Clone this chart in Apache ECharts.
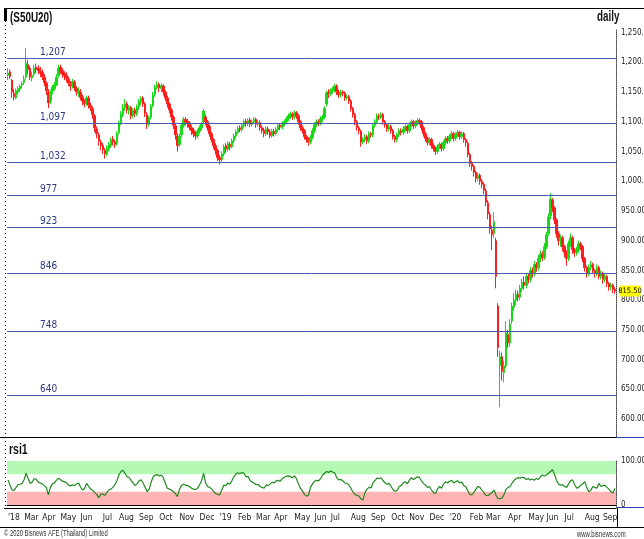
<!DOCTYPE html>
<html>
<head>
<meta charset="utf-8">
<script src="https://cdn.jsdelivr.net/npm/echarts@6/dist/echarts.min.js"></script>
<style>
html,body{margin:0;padding:0;background:#fff;}
#chart{width:644px;height:539px;}
</style>
</head>
<body>
<div id="chart"></div>
<script>
// month tick labels and number of (2-day) candles in each month
const monthNames = ["'18","Mar","Apr","May","Jun","Jul","Aug","Sep","Oct","Nov","Dec",
    "'19","Feb","Mar","Apr","May","Jun","Jul","Aug","Sep","Oct","Nov","Dec",
    "'20","Feb","Mar","Apr","May","Jun","Jul","Aug","Sep"];
const monthCounts = [8,9,9,10,11,8,10,10,10,10,10, 9,9,9,10,10,8,10,10,10,9,10,10, 10,8,11,10,9,9,10,9,7];

// support / resistance levels
const levels = [1207,1097,1032,977,923,846,748,640];

// candles: [open, close, low, high]
const ohlc = [
[1178,1182,1170,1190],[1184,1176,1172,1188],[1170,1150,1140,1172],[1148,1142,1136,1155],[1140,1152,1138,1156],
[1150,1156,1146,1160],[1155,1160,1150,1163],[1162,1164,1156,1168],[1166,1172,1162,1178],[1175,1198,1172,1224],
[1196,1188,1180,1204],[1190,1175,1170,1194],[1174,1178,1168,1184],[1180,1190,1176,1196],[1192,1188,1182,1198],
[1190,1186,1180,1195],[1185,1182,1175,1192],[1183,1176,1170,1188],[1175,1166,1160,1180],[1165,1152,1145,1168],
[1150,1132,1123,1155],[1135,1150,1130,1154],[1152,1158,1146,1162],[1156,1162,1152,1167],[1162,1175,1160,1180],
[1178,1190,1174,1196],[1192,1185,1180,1196],[1186,1180,1174,1190],[1181,1177,1170,1185],[1178,1173,1166,1183],
[1172,1165,1160,1176],[1163,1160,1152,1168],[1160,1168,1156,1172],[1167,1157,1152,1170],[1156,1150,1144,1160],
[1148,1153,1142,1158],[1150,1141,1136,1155],[1142,1135,1128,1146],[1134,1131,1124,1138],[1130,1140,1127,1144],
[1140,1128,1122,1144],[1128,1124,1118,1132],[1122,1112,1105,1126],[1110,1090,1083,1113],[1088,1080,1072,1092],
[1078,1068,1060,1082],[1066,1060,1052,1070],[1060,1053,1046,1064],[1052,1046,1038,1056],[1046,1055,1042,1060],
[1054,1062,1050,1066],[1060,1070,1056,1074],[1071,1067,1060,1076],[1066,1062,1056,1070],[1064,1080,1060,1084],
[1082,1098,1078,1102],[1098,1113,1094,1118],[1112,1124,1108,1130],[1124,1130,1118,1138],[1130,1120,1114,1134],
[1119,1124,1112,1128],[1124,1110,1104,1127],[1111,1119,1106,1123],[1120,1114,1108,1124],[1114,1125,1110,1129],
[1125,1134,1120,1138],[1133,1139,1128,1143],[1140,1130,1125,1143],[1130,1114,1108,1133],[1112,1096,1088,1116],
[1096,1106,1092,1110],[1107,1126,1104,1130],[1127,1145,1124,1150],[1146,1158,1142,1162],[1158,1163,1154,1168],
[1163,1157,1150,1166],[1156,1161,1150,1165],[1160,1150,1144,1163],[1150,1140,1135,1153],[1140,1130,1124,1144],
[1130,1120,1114,1133],[1120,1108,1102,1123],[1108,1094,1088,1111],[1093,1078,1070,1096],[1076,1060,1050,1080],
[1062,1076,1058,1080],[1078,1094,1074,1098],[1094,1104,1090,1108],[1104,1100,1094,1108],[1101,1097,1090,1105],
[1098,1091,1086,1101],[1090,1085,1078,1094],[1086,1080,1074,1090],[1080,1076,1070,1084],[1076,1084,1072,1088],
[1084,1090,1080,1094],[1090,1096,1086,1100],[1100,1118,1096,1122],[1108,1100,1094,1112],[1100,1090,1085,1103],
[1092,1080,1075,1095],[1080,1070,1065,1083],[1070,1060,1054,1073],[1060,1052,1045,1064],[1052,1040,1034,1055],
[1040,1036,1028,1044],[1036,1046,1032,1050],[1046,1058,1042,1062],[1060,1054,1048,1064],[1054,1063,1050,1067],
[1062,1058,1052,1066],[1058,1068,1055,1072],[1068,1076,1064,1080],[1076,1083,1072,1087],[1083,1089,1079,1093],
[1090,1087,1082,1094],[1087,1094,1083,1098],[1094,1100,1090,1104],[1101,1097,1092,1105],[1097,1102,1093,1106],
[1103,1096,1091,1107],[1096,1100,1092,1104],[1100,1104,1096,1108],[1104,1096,1090,1107],[1096,1099,1092,1103],
[1099,1090,1085,1102],[1090,1085,1080,1094],[1086,1080,1074,1090],[1080,1088,1076,1092],[1088,1083,1078,1092],
[1083,1077,1072,1087],[1077,1084,1073,1088],[1084,1080,1075,1088],[1080,1087,1077,1091],[1087,1094,1083,1098],
[1094,1091,1086,1098],[1091,1097,1087,1101],[1097,1100,1093,1104],[1100,1105,1096,1109],[1105,1110,1101,1114],
[1110,1113,1105,1117],[1113,1108,1103,1116],[1108,1115,1104,1119],[1115,1110,1105,1118],[1110,1100,1095,1113],
[1100,1090,1085,1103],[1090,1085,1080,1094],[1085,1075,1070,1088],[1075,1070,1065,1078],[1070,1066,1060,1074],
[1066,1074,1062,1078],[1074,1085,1070,1089],[1085,1095,1081,1099],[1095,1100,1091,1104],[1100,1098,1093,1104],
[1098,1105,1094,1109],[1105,1108,1100,1112],[1108,1122,1104,1126],[1130,1148,1126,1152],[1150,1147,1140,1155],
[1147,1152,1143,1156],[1152,1155,1147,1159],[1155,1160,1150,1164],[1160,1150,1145,1163],[1150,1145,1140,1154],
[1145,1150,1141,1154],[1150,1148,1143,1153],[1148,1140,1135,1151],[1140,1142,1136,1146],[1142,1135,1130,1145],
[1135,1122,1117,1138],[1122,1112,1107,1125],[1112,1100,1094,1115],[1100,1090,1085,1103],[1090,1085,1079,1093],
[1084,1066,1058,1087],[1066,1070,1062,1074],[1070,1075,1066,1079],[1075,1068,1063,1078],[1068,1080,1064,1084],
[1080,1078,1073,1083],[1078,1094,1074,1098],[1094,1100,1090,1104],[1100,1110,1096,1114],[1110,1108,1103,1114],
[1108,1112,1104,1116],[1112,1100,1095,1115],[1100,1095,1090,1103],[1095,1088,1083,1098],[1088,1092,1084,1096],
[1092,1085,1080,1095],[1085,1075,1070,1088],[1075,1070,1065,1078],[1070,1078,1066,1082],[1078,1085,1074,1089],
[1085,1082,1077,1089],[1082,1088,1078,1092],[1088,1092,1084,1096],[1092,1085,1080,1095],[1085,1095,1081,1099],
[1095,1100,1091,1104],[1100,1093,1088,1103],[1093,1098,1089,1102],[1098,1102,1094,1106],[1102,1100,1095,1106],
[1100,1090,1085,1103],[1090,1080,1075,1093],[1080,1072,1067,1083],[1072,1065,1060,1075],[1065,1070,1061,1074],
[1070,1060,1055,1073],[1060,1055,1050,1064],[1055,1050,1044,1058],[1050,1058,1046,1062],[1058,1062,1054,1066],
[1062,1055,1050,1065],[1055,1065,1051,1069],[1065,1072,1061,1076],[1072,1068,1063,1076],[1068,1075,1064,1079],
[1075,1080,1071,1084],[1080,1072,1067,1083],[1072,1078,1068,1082],[1078,1082,1074,1086],[1082,1075,1070,1085],
[1075,1080,1071,1084],[1080,1070,1065,1083],[1070,1065,1058,1073],[1064,1045,1040,1067],[1045,1030,1024,1048],
[1030,1025,1018,1034],[1025,1015,1008,1028],[1015,1005,998,1018],[1005,1010,1000,1014],[1010,1000,994,1013],
[1000,995,988,1004],[995,985,978,998],[984,965,958,988],[964,945,936,968],[944,920,912,948],
[918,910,884,925],[912,932,905,948],[900,840,820,905],[790,720,705,795],[690,705,620,715],
[705,680,665,712],[678,690,662,698],[690,745,686,765],[742,728,720,750],[728,760,722,768],
[765,790,760,796],[788,800,782,812],[800,810,792,818],[810,805,798,816],[805,820,800,826],
[820,830,814,836],[830,825,818,840],[825,840,820,846],[840,835,828,845],[835,850,830,856],
[850,845,838,855],[845,860,840,866],[860,855,848,864],[855,870,850,876],[870,878,864,884],
[878,872,866,882],[872,890,868,896],[890,910,886,915],[912,940,908,946],[942,970,936,980],
[968,955,948,972],[955,935,928,958],[935,912,905,938],[912,900,892,916],[900,905,890,910],
[905,890,882,908],[890,880,872,893],[880,870,858,884],[870,895,866,900],[895,905,890,912],
[905,885,878,908],[885,880,873,888],[880,885,875,890],[885,895,880,900],[895,890,884,898],
[890,870,864,893],[870,855,848,873],[855,845,838,858],[845,855,840,860],[855,860,850,866],
[860,850,845,863],[850,845,838,853],[845,855,840,860],[855,840,835,858],[840,845,835,850],
[845,835,828,848],[835,840,830,844],[840,828,822,843],[828,822,816,831],[822,825,817,829],
[825,818,812,828],[818,815.5,811,822]
];

// rsi values, one per candle
const rsi = [
57,45,34,33,40,46,47,49,58,72, 60,49,52,60,58,52,50,48,44,40,
23,40,48,50,56,61,58,54,53,51, 45,43,46,44,48,50,40,34,38,49,
42,36,33,28,24,16,24,25,22,28, 34,36,40,46,55,68,76,79,72,64,
63,56,50,44,48,55,57,50,40,30, 36,52,64,68,69,66,68,62,50,38,
36,34,30,26,19,35,44,47,45,44, 42,38,36,35,38,46,55,72,50,42,
40,36,30,26,24,23,34,45,44,50, 47,55,64,70,73,71,74,72,64,65,
56,52,50,46,47,42,40,38,45,44, 48,52,50,55,56,54,60,63,65,66,
65,62,66,60,48,38,32,24,20,22, 40,48,54,56,55,60,68,72,76,74,
77,75,73,62,57,58,55,50,49,46, 38,30,24,22,20,14,11,28,36,40,
39,50,56,61,60,62,55,50,47,49, 42,34,31,33,42,44,50,53,48,56,
62,58,61,64,63,55,49,45,40,42, 34,28,26,36,42,38,48,53,50,54,
56,50,53,55,50,52,44,42,32,24, 23,28,36,42,40,34,28,22,21,25,
28,34,22,15,14,16,24,36,40,42, 50,56,60,62,61,63,62,58,60,57,
59,56,60,58,64,68,66,68,72,76, 80,70,56,47,45,46,42,40,48,55,
57,46,38,40,45,48,53,40,30,33, 42,40,38,49,42,44,45,40,36,30,
27,38
];

const cats = [];
monthNames.forEach(function (m, i) {
    for (let j = 0; j < monthCounts[i]; j++) cats.push(m + '#' + j);
});

const narrow = "'Liberation Sans Narrow','DejaVu Sans Condensed',sans-serif";
const last = ohlc[ohlc.length - 1];

// squeezed text like the narrow font of the original
function squeezed(x, y, text, size, weight, sx, fill) {
    return {type: 'text', x: x, y: y, scaleX: sx,
        style: {text: text, font: weight + ' ' + size + "px 'Liberation Sans','DejaVu Sans',sans-serif", fill: fill}};
}

var myChart = echarts.init(document.getElementById('chart'));
var option = {
    backgroundColor: '#fff',
    animation: false,
    grid: [
        {left: 7, right: 28, top: 29, height: 408, outerBoundsMode: 'none', containLabel: false},
        {left: 7, right: 28, top: 461, height: 47, outerBoundsMode: 'none', containLabel: false}
    ],
    xAxis: [
        {type: 'category', gridIndex: 0, data: cats, show: false, boundaryGap: true},
        {type: 'category', gridIndex: 1, data: cats, boundaryGap: true,
            axisLine: {lineStyle: {color: '#000', width: 1}},
            axisTick: {show: false},
            axisLabel: {
                interval: function (i, v) { return v.split('#')[1] === '0'; },
                formatter: function (v) { return v.split('#')[0]; },
                align: 'left', margin: 5,
                fontFamily: narrow, fontSize: 8.5, color: '#222'
            }
        }
    ],
    yAxis: [
        {type: 'value', gridIndex: 0, position: 'right', min: 570, max: 1256, scale: true,
            splitLine: {show: false},
            axisLine: {show: true, lineStyle: {color: '#444', type: 'dotted'}},
            axisTick: {show: false},
            axisLabel: {
                customValues: [600,650,700,750,800,850,900,950,1000,1050,1100,1150,1200,1250],
                formatter: function (v) {
                    return v.toLocaleString('en-US', {minimumFractionDigits: 2, maximumFractionDigits: 2});
                },
                margin: 5, fontFamily: narrow, fontSize: 8, color: '#222'
            }
        },
        {type: 'value', gridIndex: 1, position: 'right', min: -7, max: 100,
            splitLine: {show: false},
            axisLine: {show: true, lineStyle: {color: '#444', type: 'dotted'}},
            axisTick: {show: false},
            axisLabel: {
                customValues: [0, 100],
                formatter: function (v) { return v === 100 ? '100.0000' : '0'; },
                margin: 5, fontFamily: narrow, fontSize: 8, color: '#222'
            }
        }
    ],
    series: [
        {
            type: 'candlestick', xAxisIndex: 0, yAxisIndex: 0,
            data: ohlc,
            barWidth: 2,
            itemStyle: {
                color: '#18d818', color0: '#ff1e1e',
                borderColor: '#18d818', borderColor0: '#ff1e1e', borderWidth: 1
            },
            markLine: {
                silent: true, symbol: 'none',
                lineStyle: {color: '#4a5cb0', type: 'solid', width: 1},
                label: {
                    position: 'insideStartTop', distance: [33, 1],
                    formatter: function (p) { return p.value.toLocaleString('en-US'); },
                    fontFamily: narrow, fontSize: 10, color: '#2b3b86'
                },
                data: levels.map(function (v) { return {yAxis: v}; })
            },
            markPoint: {
                silent: true,
                symbol: 'rect', symbolSize: [21, 11], symbolOffset: [15, 0],
                itemStyle: {color: '#ffff00'},
                label: {
                    show: true, position: 'inside',
                    formatter: function (p) { return p.value.toFixed(2); },
                    fontFamily: narrow, fontSize: 7.5, color: '#000'
                },
                data: [{coord: [ohlc.length - 1, last[1]], value: last[1]}]
            }
        },
        {
            type: 'line', xAxisIndex: 1, yAxisIndex: 1,
            data: rsi, symbol: 'none', silent: true,
            lineStyle: {color: '#1f8a1f', width: 1.2},
            markArea: {
                silent: true,
                data: [
                    [{yAxis: 70, itemStyle: {color: '#b4fab4'}}, {yAxis: 100}],
                    [{yAxis: 0, itemStyle: {color: '#ffb4b4'}}, {yAxis: 30}]
                ]
            }
        }
    ],
    graphic: [
        {type: 'line', shape: {x1: 4, y1: 8.5, x2: 644, y2: 8.5}, style: {stroke: '#000', lineWidth: 1}},
        {type: 'rect', shape: {x: 4, y: 8, width: 3, height: 13}, style: {fill: '#000'}},
        {type: 'line', shape: {x1: 5.5, y1: 21, x2: 5.5, y2: 508}, style: {stroke: '#000', lineWidth: 1, lineDash: [1, 3]}},
        {type: 'line', shape: {x1: 0, y1: 437.5, x2: 616, y2: 437.5}, style: {stroke: '#000', lineWidth: 1}},
        {type: 'line', shape: {x1: 616, y1: 437.5, x2: 644, y2: 437.5}, style: {stroke: '#2a44b0', lineWidth: 1}},
        {type: 'line', shape: {x1: 4, y1: 508.5, x2: 616, y2: 508.5}, style: {stroke: '#000', lineWidth: 1}},
        {type: 'line', shape: {x1: 616, y1: 507.5, x2: 644, y2: 507.5}, style: {stroke: '#2a44b0', lineWidth: 1}},
        {type: 'line', shape: {x1: 617.5, y1: 508, x2: 617.5, y2: 527}, style: {stroke: '#000', lineWidth: 1}},
        {type: 'line', shape: {x1: 0, y1: 527.5, x2: 644, y2: 527.5}, style: {stroke: '#000', lineWidth: 1}},
        squeezed(10, 10, '(S50U20)', 15, 'bold', 0.66, '#111'),
        squeezed(597, 10, 'daily', 14, 'bold', 0.7, '#111'),
        squeezed(9, 442, 'rsi1', 15, 'bold', 0.7, '#111'),
        squeezed(4, 529, '© 2020 Bisnews AFE (Thailand) Limited', 9, 'normal', 0.65, '#333'),
        squeezed(577, 530, 'www.bisnews.com', 8.5, 'normal', 0.7, '#333')
    ]
};
myChart.setOption(option);
</script>
</body>
</html>
